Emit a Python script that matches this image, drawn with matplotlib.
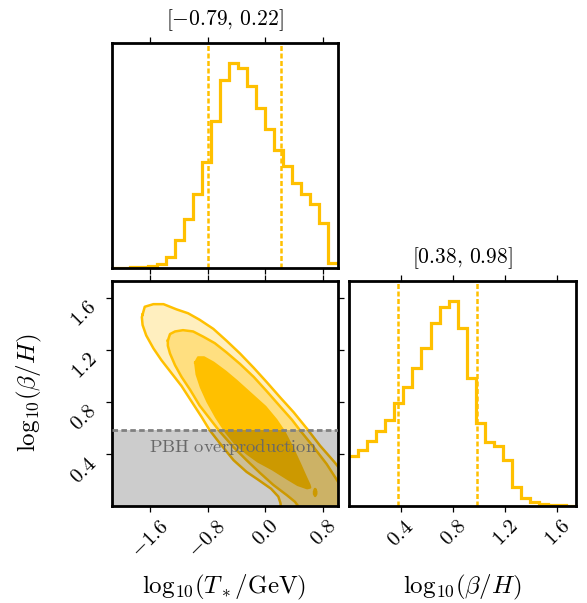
import numpy as np
import matplotlib
matplotlib.use("Agg")
import matplotlib.pyplot as plt

plt.rcParams["mathtext.fontset"] = "cm"
plt.rcParams["font.family"] = "serif"

# parameter ranges and 1d histograms (25 bins each)
t_range = (-2.13, 1.0)
b_range = (0.0, 1.74)
t_hist = [0.5, 0.5, 1, 2, 5, 11, 31, 83, 148, 221, 318, 443, 566, 616, 601,
          546, 481, 418, 356, 305, 256, 221, 191, 135, 13]
b_hist = [149, 169, 194, 225, 259, 309, 359, 416, 477, 551, 600, 617, 535,
          384, 249, 192, 179, 139, 57, 24, 10, 5, 2, 1, 0]
t_quant = [-0.79, 0.22]
b_quant = [0.38, 0.98]
t_title = r"$[-0.79,\,0.22]$"
b_title = r"$[0.38,\,0.98]$"

t_ticks = [-1.6, -0.8, 0.0, 0.8]
t_ticklabels = [r"$-1.6$", r"$-0.8$", r"$0.0$", r"$0.8$"]
b_ticks = [0.4, 0.8, 1.2, 1.6]
b_ticklabels = [r"$0.4$", r"$0.8$", r"$1.2$", r"$1.6$"]

pbh_limit = 0.58

# 2d credible contours (T, beta)
outer_t = [-1.70, -1.67, -1.55, -1.41, -1.23, -1.07, -0.91, -0.72, -0.54, -0.35,
           -0.16, 0.02, 0.21, 0.39, 0.58, 0.76, 0.95, 1.08, 1.08, 0.22,
           0.21, 0.18, 0.08, -0.10, -0.26, -0.44, -0.63, -0.77, -0.88, -1.02,
           -1.16, -1.30, -1.44, -1.55, -1.65, -1.70, -1.71]
outer_b = [1.47, 1.53, 1.55, 1.55, 1.51, 1.48, 1.43, 1.36, 1.27, 1.17,
           1.06, 0.95, 0.83, 0.72, 0.59, 0.46, 0.34, 0.25, -0.05, -0.05,
           0.02, 0.07, 0.13, 0.20, 0.26, 0.35, 0.48, 0.58, 0.68, 0.80,
           0.92, 1.02, 1.12, 1.21, 1.31, 1.39, 1.45]
mid_t = [-1.35, -1.32, -1.25, -1.14, -1.00, -0.86, -0.70, -0.54, -0.35, -0.16,
         0.02, 0.21, 0.37, 0.48, 0.67, 0.85, 1.00, 1.08, 1.08, 0.46,
         0.45, 0.41, 0.30, 0.11, -0.07, -0.26, -0.44, -0.63, -0.77, -0.91,
         -1.04, -1.16, -1.25, -1.32, -1.35]
mid_b = [1.27, 1.32, 1.34, 1.35, 1.34, 1.30, 1.25, 1.18, 1.09, 0.99,
         0.88, 0.76, 0.66, 0.58, 0.45, 0.32, 0.19, 0.13, -0.05, -0.05,
         0.00, 0.03, 0.08, 0.16, 0.25, 0.35, 0.45, 0.57, 0.67, 0.77,
         0.89, 0.99, 1.08, 1.17, 1.23]
inner_t = [-0.97, -0.93, -0.85, -0.72, -0.55, -0.40, -0.20, 0.00, 0.15, 0.26,
           0.38, 0.48, 0.56, 0.61, 0.62, 0.58, 0.45, 0.30, 0.10, -0.10,
           -0.25, -0.42, -0.55, -0.68, -0.80, -0.89, -0.95]
inner_b = [1.10, 1.14, 1.14, 1.10, 1.03, 0.96, 0.86, 0.76, 0.66, 0.57,
           0.44, 0.32, 0.22, 0.16, 0.14, 0.135, 0.16, 0.21, 0.28, 0.34,
           0.40, 0.48, 0.57, 0.68, 0.80, 0.91, 1.01]
island_t = [0.69, 0.705, 0.705, 0.69, 0.675, 0.675]
island_b = [0.125, 0.11, 0.09, 0.075, 0.09, 0.11]

gold = "#FFC000"
fills = ["#FFEFBF", "#FFDF80", "#FFC000"]

fig = plt.figure(figsize=(5.87, 6.03), dpi=100)
ax_t = fig.add_axes([0.190, 0.556, 0.385, 0.373])
ax_2d = fig.add_axes([0.190, 0.1614, 0.385, 0.373])
ax_b = fig.add_axes([0.5945, 0.1614, 0.386, 0.373])

for ax in (ax_t, ax_2d, ax_b):
    for s in ax.spines.values():
        s.set_linewidth(2.0)
    ax.tick_params(direction="out", length=4.5, width=0.9, labelsize=15,
                   top=True, bottom=True)

# top histogram
edges = np.linspace(t_range[0], t_range[1], len(t_hist) + 1)
ax_t.stairs(t_hist, edges, baseline=None, color=gold, lw=2.3)
for q in t_quant:
    ax_t.axvline(q, color=gold, ls=(0, (2, 1)), lw=1.8)
ax_t.set_xlim(t_range)
ax_t.set_ylim(0, 1.1 * max(t_hist))
ax_t.set_xticks(t_ticks)
ax_t.set_xticklabels([])
ax_t.set_yticks([])
ax_t.set_title(t_title, fontsize=15.5, pad=13)

# right histogram
edges = np.linspace(b_range[0], b_range[1], len(b_hist) + 1)
ax_b.stairs(b_hist, edges, baseline=None, color=gold, lw=2.3)
for q in b_quant:
    ax_b.axvline(q, color=gold, ls=(0, (2, 1)), lw=1.8)
ax_b.set_xlim(b_range)
ax_b.set_ylim(0, 1.1 * max(b_hist))
ax_b.set_xticks(b_ticks)
ax_b.set_xticklabels(b_ticklabels, rotation=45)
ax_b.set_yticks([])
ax_b.set_title(b_title, fontsize=15.5, pad=13)
ax_b.set_xlabel(r"$\mathrm{log}_{10}(\beta/H)$", fontsize=18)
ax_b.xaxis.set_label_coords(0.5, -0.3)

# 2d panel
for (xs, ys), fc in zip([(outer_t, outer_b), (mid_t, mid_b), (inner_t, inner_b),
                         (island_t, island_b)], fills + [fills[2]]):
    ax_2d.fill(xs, ys, color=fc, lw=0, zorder=1)
    ax_2d.plot(list(xs) + [xs[0]], list(ys) + [ys[0]], color=gold, lw=1.8, zorder=2)

ax_2d.axhspan(b_range[0] - 0.1, pbh_limit, color="k", alpha=0.2, lw=0, zorder=3)
ax_2d.axhline(pbh_limit, color="gray", ls=(0, (2, 1.2)), lw=2.0, zorder=4)
ax_2d.text(-0.45, 0.45, r"$\mathrm{PBH\ overproduction}$", color="#686868",
           fontsize=13.3, ha="center", va="center", zorder=5)

ax_2d.set_xlim(t_range)
ax_2d.set_ylim(0.0, 1.73)
ax_2d.set_xticks(t_ticks)
ax_2d.set_xticklabels(t_ticklabels, rotation=45)
ax_2d.set_yticks(b_ticks)
ax_2d.set_yticklabels(b_ticklabels, rotation=45, va="top")
ax_2d.tick_params(axis="y", left=True, right=True)
ax_2d.set_xlabel(r"$\mathrm{log}_{10}(T_*/\mathrm{GeV})$", fontsize=18)
ax_2d.xaxis.set_label_coords(0.5, -0.3)
ax_2d.set_ylabel(r"$\mathrm{log}_{10}(\beta/H)$", fontsize=18)
ax_2d.yaxis.set_label_coords(-0.3, 0.5)

fig.savefig("out.png", dpi=100)
